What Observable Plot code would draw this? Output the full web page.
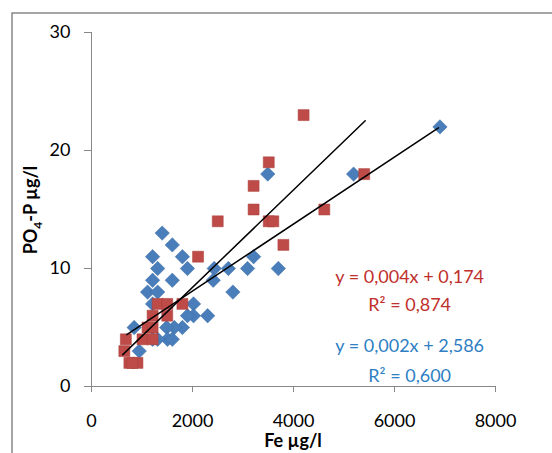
<!DOCTYPE html>
<html><head>
<script src="https://cdn.jsdelivr.net/npm/d3@7"></script>
<script src="https://cdn.jsdelivr.net/npm/@observablehq/plot@0.6"></script>
<style>body{margin:0;background:#fff}svg{font-family:Lato,"Open Sans",sans-serif}</style>
</head><body><div id="c"></div>
<script>
const blueX=[6900,5190,3490,3700,3210,3090,2800,2710,2430,2410,2300,2020,2020,1900,1800,1640,1490,1505,1600,1900,1800,1600,1600,1400,1210,1310,1210,1110,1310,1210,845,945,1310,1210];
const blueY=[22,18,18,10,11,10,8,10,10,9,6,7,6,6,5,5,5,4,4,10,11,9,12,13,11,10,9,8,8,7,5,3,4,4];
const redX=[4200,3510,3210,3210,2500,3510,3600,3800,4610,5400,2110,1800,1310,1500,1500,1210,1110,1210,1010,1210,680,650,750,910,810];
const redY=[23,19,17,15,14,14,14,12,15,18,11,7,7,7,6,6,5,5,4,4,4,3,2,2,2];
const trends=[{a:0.00413,b:0.14,x0:620,x1:5420},{a:0.00284,b:2.41,x0:700,x1:6870}];
const xTicks=[0,2000,4000,6000,8000], yTicks=[0,10,20,30];
const blue=blueX.map((x,i)=>({x,y:blueY[i]})), red=redX.map((x,i)=>({x,y:redY[i]}));
const segs=trends.flatMap((t,i)=>[{x:t.x0,y:t.a*t.x0+t.b,k:i},{x:t.x1,y:t.a*t.x1+t.b,k:i}]);
const BL="#4a7ebb", RD="#be4b48";
const p=Plot.plot({width:552,height:453,marginLeft:91,marginRight:57,marginTop:32,marginBottom:67,
 x:{domain:[0,8000],ticks:xTicks,label:null},y:{domain:[0,30],ticks:yTicks,label:null},
 style:{fontSize:"17px",fontFamily:"Lato, 'Open Sans', sans-serif"},
 marks:[
  Plot.ruleX([0],{stroke:"#888"}),Plot.ruleY([0],{stroke:"#888"}),
  Plot.axisY({ticks:yTicks,tickSize:7,tickPadding:14,stroke:"#888",color:"#000",fontSize:18,tickFormat:d=>String(d)}),
  Plot.axisX({ticks:xTicks,tickSize:6,tickPadding:22,stroke:"#888",color:"#000",fontSize:18,tickFormat:d=>String(d)}),
  Plot.dot(blue,{x:"x",y:"y",symbol:"diamond2",r:6.5,fill:BL,stroke:"#3a6aa5",strokeWidth:0.5}),
  Plot.dot(red,{x:"x",y:"y",symbol:"square2",r:7,fill:RD,stroke:"#a83e3b",strokeWidth:0.5}),
  Plot.line(segs,{x:"x",y:"y",z:"k",stroke:"black",strokeWidth:1.5}),
  Plot.text(["y = 0,004x + 0,174","R² = 0,874"],{x:6300,y:[9.3,6.9],text:d=>d,textAnchor:"middle",fill:"#c0302c",fontSize:18}),
  Plot.text(["y = 0,002x + 2,586","R² = 0,600"],{x:6300,y:[3.4,0.9],text:d=>d,textAnchor:"middle",fill:"#2e7fc4",fontSize:18})
 ]});
const s=d3.select(p);
s.insert("rect",":first-child").attr("x",12).attr("y",13).attr("width",600).attr("height",500).attr("fill","white").attr("stroke","#888").attr("stroke-width",1.5);
const t=s.append("text").attr("transform","translate(37,210) rotate(-90)").attr("text-anchor","middle").attr("font-weight","bold").attr("font-size",18);
t.append("tspan").text("PO");t.append("tspan").attr("font-size",12).attr("dy",5).text("4");t.append("tspan").attr("dy",-5).text("-P µg/l");
s.append("text").attr("x",293).attr("y",447).attr("text-anchor","middle").attr("font-weight","bold").attr("font-size",18).text("Fe µg/l");
document.getElementById("c").append(p);
</script></body></html>
